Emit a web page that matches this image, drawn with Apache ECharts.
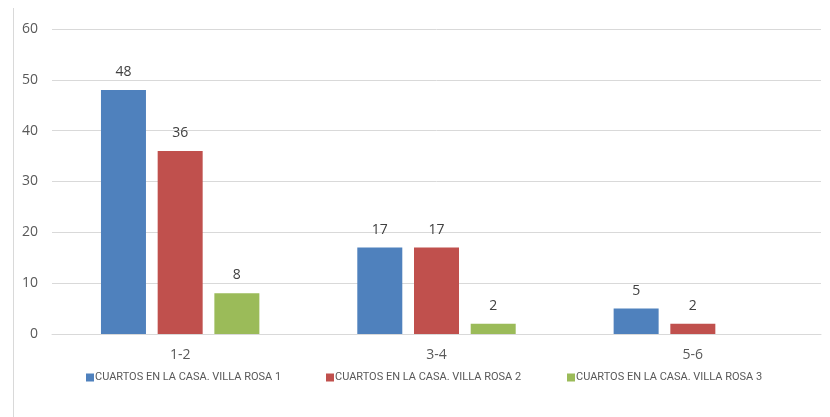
<!DOCTYPE html>
<html><head><meta charset="utf-8">
<script src="https://cdn.jsdelivr.net/npm/echarts@6/dist/echarts.min.js"></script>
<style>html,body{margin:0;padding:0;background:#fff}#c{width:830px;height:417px}</style>
</head><body><div id="c"></div>
<script>
var categories = ['1-2', '3-4', '5-6'];
var seriesNames = ['CUARTOS EN LA CASA. VILLA ROSA 1', 'CUARTOS EN LA CASA. VILLA ROSA 2', 'CUARTOS EN LA CASA. VILLA ROSA 3'];
var villaRosa1 = [48, 17, 5];
var villaRosa2 = [36, 17, 2];
var villaRosa3 = [8, 2, null];
var yTicks = [0, 10, 20, 30, 40, 50, 60];

var colors = ['#4F81BD', '#C0504D', '#9BBB59'];
var values = [villaRosa1, villaRosa2, villaRosa3];
var chart = echarts.init(document.getElementById('c'), null, {renderer: 'canvas'});
var numFont = "'Open Sans', 'Noto Sans', sans-serif";
var legFont = "Roboto, 'Liberation Sans', sans-serif";
var legendLefts = [81, 321, 562];
chart.setOption({
  animation: false,
  color: colors,
  graphic: [{type: 'line', shape: {x1: 13.5, y1: 8, x2: 13.5, y2: 417}, style: {stroke: '#d9d9d9', lineWidth: 1}}],
  grid: {left: 52, right: 9, top: 29, bottom: 83, containLabel: false},
  legend: seriesNames.map(function (n, i) {
    return {data: [n], left: legendLefts[i], top: 367, itemWidth: 8, itemHeight: 8, itemGap: 4,
      icon: 'rect', textStyle: {fontFamily: legFont, fontSize: 11, color: '#595959', padding: [0, 0, 0, -4]}};
  }),
  xAxis: {type: 'category', data: categories,
    axisLine: {lineStyle: {color: '#d9d9d9'}}, axisTick: {show: false},
    axisLabel: {fontFamily: numFont, fontSize: 14, color: '#595959', margin: 14}},
  yAxis: {type: 'value', min: yTicks[0], max: yTicks[yTicks.length - 1], interval: 10,
    axisLine: {show: false}, axisTick: {show: false},
    splitLine: {lineStyle: {color: '#d9d9d9'}},
    axisLabel: {fontFamily: numFont, fontSize: 14, color: '#595959', margin: 14}},
  series: values.map(function (v, i) {
    return {name: seriesNames[i], type: 'bar', data: v, barWidth: 45, barGap: '26%',
      label: {show: true, position: 'top', distance: 11, fontFamily: numFont, fontSize: 14, color: '#404040'}};
  })
});
</script></body></html>
